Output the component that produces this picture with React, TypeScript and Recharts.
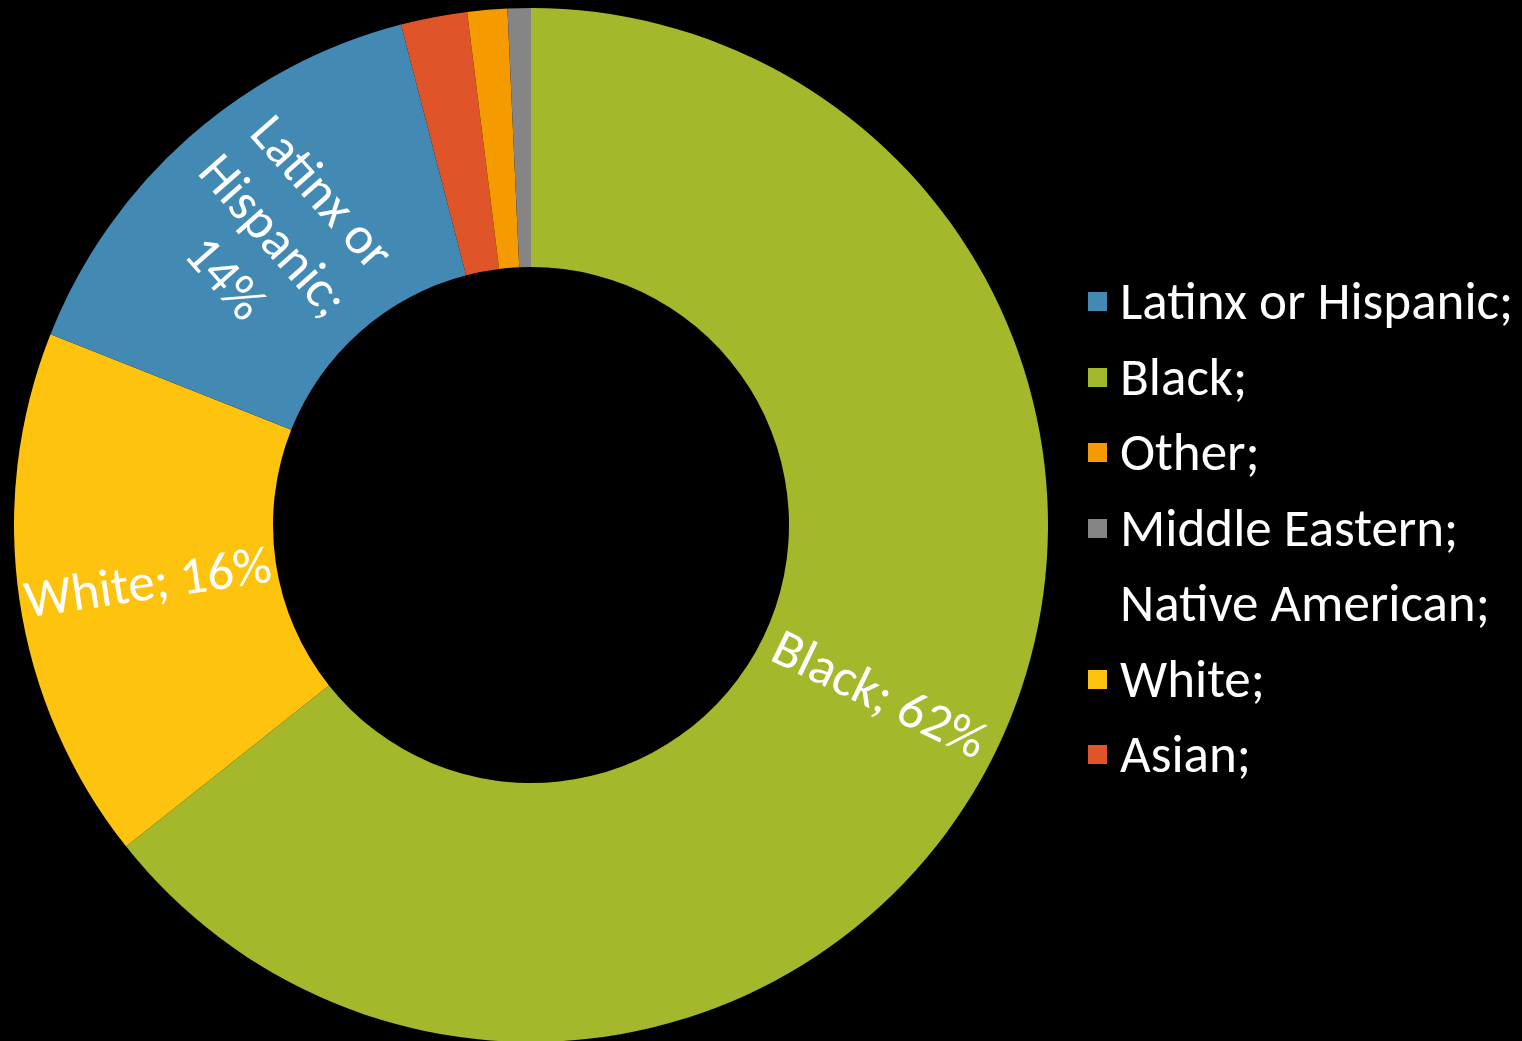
import { PieChart, Pie, Cell, Legend } from "recharts";

// slice order, clockwise from 12 o'clock
const categories = ["Black", "White", "Latinx or Hispanic", "Asian", "Other", "Middle Eastern", "Native American"];
const shares = [62, 16.1, 14.4, 2, 1.2, 0.7, 0];

// order used by the legend
const legendOrder = ["Latinx or Hispanic", "Black", "Other", "Middle Eastern", "Native American", "White", "Asian"];

const palette: Record<string, string> = {
    "Black": "#A5B72A",
    "White": "#FEC30E",
    "Latinx or Hispanic": "#428AB3",
    "Asian": "#DF5428",
    "Other": "#F59B00",
    "Middle Eastern": "#858585",
    "Native American": "transparent",
};

const data = categories.map((name, i) => ({ name, value: shares[i] }));

const FONT = "Calibri, Carlito, Lato, sans-serif";
const FONT_SIZE = 53;
const RAD = Math.PI / 180;

const wrap = (text: string, max: number) => {
    const lines: string[] = [];
    let cur = "";
    for (const w of text.split(" ")) {
        if (cur && (cur + " " + w).length > max) {
            lines.push(cur);
            cur = w;
        } else {
            cur = cur ? cur + " " + w : w;
        }
    }
    if (cur) lines.push(cur);
    return lines;
};

const renderLabel = (props: any) => {
    const { cx, cy, midAngle, innerRadius, outerRadius, name, value } = props;
    if (value < 5) return null;
    const r = (innerRadius + outerRadius) / 2;
    const x = cx + r * Math.cos(-midAngle * RAD);
    const y = cy + r * Math.sin(-midAngle * RAD);
    let rot = -midAngle;
    rot = ((rot % 360) + 360) % 360;
    if (rot > 90 && rot < 270) rot -= 180;
    const lines = wrap(`${name}; ${Math.round(value)}%`, 10);
    const lh = FONT_SIZE * 1.22;
    return (
        <text
            x={x}
            y={y}
            fill="#fff"
            fontFamily={FONT}
            fontSize={FONT_SIZE}
            textAnchor="middle"
            dominantBaseline="central"
            transform={`rotate(${rot} ${x} ${y})`}
        >
            {lines.map((l, i) => (
                <tspan key={i} x={x} dy={i === 0 ? -((lines.length - 1) * lh) / 2 : lh}>
                    {l}
                </tspan>
            ))}
        </text>
    );
};

const LegendBox = () => (
    <div style={{ fontFamily: FONT, fontSize: FONT_SIZE, color: "#fff" }}>
        {legendOrder.map((name) => (
            <div key={name} style={{ height: 75.5, display: "flex", alignItems: "center", whiteSpace: "nowrap" }}>
                <span style={{ width: 19, height: 19, background: palette[name], marginRight: 13, flex: "none" }} />
                <span style={{ lineHeight: "75.5px" }}>{name};</span>
            </div>
        ))}
    </div>
);

const App = () => {
    return (
        <div style={{ position: "absolute", left: 0, top: 0, width: 1522, height: 1041, background: "#000", overflow: "hidden" }}>
            <PieChart width={1522} height={1041} margin={{ top: 0, right: 0, bottom: 0, left: 0 }}>
                <Pie
                    data={data}
                    dataKey="value"
                    nameKey="name"
                    cx={531}
                    cy={525}
                    innerRadius={258}
                    outerRadius={517}
                    startAngle={90}
                    endAngle={-270}
                    stroke="none"
                    label={renderLabel}
                    labelLine={false}
                    isAnimationActive={false}
                >
                    {data.map((d) => (
                        <Cell key={d.name} fill={palette[d.name]} />
                    ))}
                </Pie>
                <Legend
                    content={<LegendBox />}
                    wrapperStyle={{ position: "absolute", left: 1088, top: 264, width: 434, bottom: "auto" }}
                />
            </PieChart>
        </div>
    );
};

export default App;
